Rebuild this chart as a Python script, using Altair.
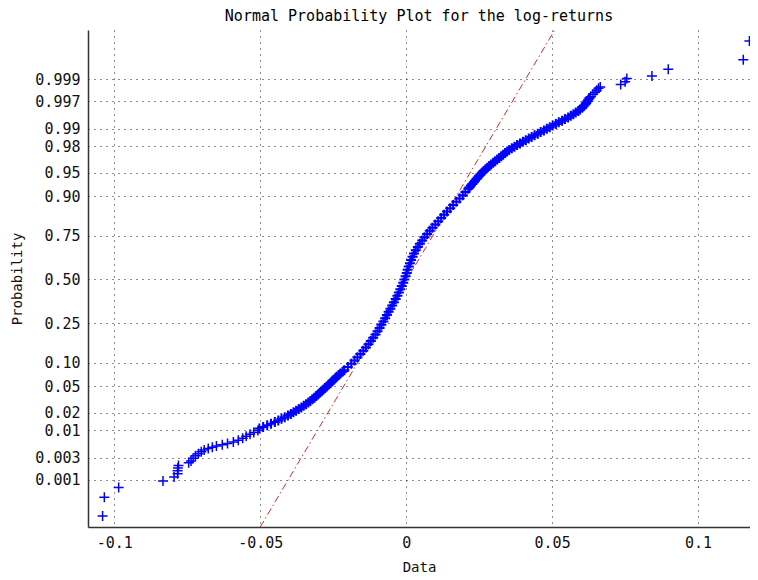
import altair as alt
import pandas as pd
from statistics import NormalDist

# ---- data ----
# normal quantile (probit position) of each plotted order statistic, and its data value
tail_low_z = [-3.65, -3.36, -3.21, -3.11, -3.05, -3.00, -2.95, -2.91, -2.87, -2.83,
              -2.80, -2.76, -2.72, -2.69, -2.66, -2.63, -2.61, -2.59, -2.57, -2.55,
              -2.53, -2.51, -2.48, -2.45, -2.42, -2.39, -2.36, -2.33]
tail_low_v = [-0.1040, -0.1034, -0.0985, -0.0833, -0.0795, -0.0783, -0.0783, -0.0782, -0.0780, -0.0745,
              -0.0737, -0.0730, -0.0722, -0.0712, -0.0702, -0.0692, -0.0678, -0.0664, -0.0650, -0.0630,
              -0.0612, -0.0592, -0.0575, -0.0560, -0.0548, -0.0535, -0.0522, -0.0508]

lower_z = [-2.300, -2.275, -2.250, -2.225, -2.200, -2.175, -2.150, -2.125, -2.100, -2.075,
           -2.050, -2.025, -2.000, -1.975, -1.950, -1.925, -1.900, -1.875, -1.850, -1.825,
           -1.800, -1.775, -1.750, -1.725, -1.700, -1.675, -1.650, -1.625, -1.600, -1.575,
           -1.550, -1.525, -1.500, -1.475, -1.450, -1.425]
lower_v = [-0.0503, -0.0490, -0.0476, -0.0463, -0.0450, -0.0438, -0.0427, -0.0416, -0.0405, -0.0395,
           -0.0386, -0.0377, -0.0368, -0.0359, -0.0351, -0.0343, -0.0335, -0.0328, -0.0321, -0.0314,
           -0.0308, -0.0302, -0.0296, -0.0290, -0.0284, -0.0278, -0.0272, -0.0266, -0.0260, -0.0254,
           -0.0249, -0.0243, -0.0238, -0.0231, -0.0225, -0.0218]

middle_z = [-1.40, -1.35, -1.30, -1.25, -1.20, -1.15, -1.10, -1.05, -1.00, -0.95,
            -0.90, -0.85, -0.80, -0.75, -0.70, -0.65, -0.60, -0.55, -0.50, -0.45,
            -0.40, -0.35, -0.30, -0.25, -0.20, -0.15, -0.10, -0.05, 0.00, 0.05,
            0.10, 0.15, 0.20, 0.25, 0.30, 0.35, 0.40, 0.45, 0.50, 0.55,
            0.60, 0.65, 0.70, 0.75, 0.80, 0.85, 0.90, 0.95, 1.00, 1.05,
            1.10, 1.15, 1.20, 1.25, 1.30, 1.35, 1.40]
middle_v = [-0.0212, -0.0200, -0.0188, -0.0177, -0.0167, -0.0157, -0.0147, -0.0138, -0.0129, -0.0121,
            -0.0113, -0.0105, -0.0098, -0.0091, -0.0085, -0.0078, -0.0072, -0.0066, -0.0060, -0.0054,
            -0.0048, -0.0042, -0.0036, -0.0030, -0.0025, -0.0020, -0.0015, -0.0010, -0.0006, -0.0002,
            0.0002, 0.0005, 0.0009, 0.0013, 0.0017, 0.0022, 0.0027, 0.0033, 0.0040, 0.0047,
            0.0055, 0.0063, 0.0072, 0.0081, 0.0090, 0.0100, 0.0110, 0.0120, 0.0130, 0.0140,
            0.0151, 0.0161, 0.0172, 0.0183, 0.0194, 0.0203, 0.0213]

upper_z = [1.425, 1.450, 1.475, 1.500, 1.525, 1.550, 1.575, 1.600, 1.625, 1.650,
           1.675, 1.700, 1.725, 1.750, 1.775, 1.800, 1.825, 1.850, 1.875, 1.900,
           1.925, 1.950, 1.975, 2.000, 2.025, 2.050, 2.075, 2.100, 2.125, 2.150,
           2.175, 2.200, 2.225, 2.250, 2.275, 2.300, 2.325, 2.350, 2.375, 2.400,
           2.425, 2.450, 2.475, 2.500, 2.525, 2.550, 2.575, 2.600, 2.625, 2.650,
           2.675, 2.700, 2.725, 2.750, 2.775, 2.800]
upper_v = [0.0217, 0.0222, 0.0227, 0.0232, 0.0236, 0.0241, 0.0245, 0.0250, 0.0255, 0.0261,
           0.0266, 0.0272, 0.0278, 0.0285, 0.0291, 0.0298, 0.0305, 0.0312, 0.0319, 0.0326,
           0.0332, 0.0339, 0.0346, 0.0353, 0.0362, 0.0371, 0.0380, 0.0390, 0.0400, 0.0410,
           0.0420, 0.0430, 0.0440, 0.0451, 0.0461, 0.0472, 0.0482, 0.0492, 0.0502, 0.0513,
           0.0523, 0.0534, 0.0544, 0.0555, 0.0564, 0.0573, 0.0581, 0.0590, 0.0596, 0.0603,
           0.0608, 0.0614, 0.0617, 0.0621, 0.0624, 0.0628]

tail_high_z = [2.82, 2.86, 2.89, 2.92, 2.95, 2.97, 3.01, 3.05, 3.10, 3.14, 3.245, 3.39, 3.68]
tail_high_v = [0.0632, 0.0640, 0.0647, 0.0653, 0.0659, 0.0665, 0.0735, 0.0750, 0.0756, 0.0842,
               0.0898, 0.1155, 0.1176]

# reference line (dash-dot) end points: data value and probit position
ref_v = [-0.0500, 0.0509]
ref_z = [-3.82, 3.85]

prob_ticks = [0.001, 0.003, 0.01, 0.02, 0.05, 0.10, 0.25, 0.50, 0.75, 0.90, 0.95, 0.98, 0.99, 0.997, 0.999]
prob_labels = ["0.001", "0.003", "0.01", "0.02", "0.05", "0.10", "0.25", "0.50", "0.75", "0.90",
               "0.95", "0.98", "0.99", "0.997", "0.999"]
x_ticks = [-0.1, -0.05, 0, 0.05, 0.1]
x_labels = ["-0.1", "-0.05", "0", "0.05", "0.1"]

# ---- build ----
nd = NormalDist()
tick_z = [nd.inv_cdf(p) for p in prob_ticks]

ylab = "''"
for zv, lab in zip(tick_z, prob_labels):
    ylab = f"abs(datum.value - ({zv:.5f})) < 0.01 ? '{lab}' : " + ylab
xlab = "''"
for xv, lab in zip(x_ticks, x_labels):
    xlab = f"abs(datum.value - ({xv})) < 0.001 ? '{lab}' : " + xlab

FONT = "DejaVu Sans Mono"

df = pd.DataFrame({
    "value": tail_low_v + lower_v + middle_v + upper_v + tail_high_v,
    "z": tail_low_z + lower_z + middle_z + upper_z + tail_high_z,
})
ref_df = pd.DataFrame({"value": ref_v, "z": ref_z})

xscale = alt.Scale(domain=[-0.109, 0.1178], nice=False, zero=False)
yscale = alt.Scale(domain=[-3.82, 3.85], nice=False, zero=False)

xaxis = alt.Axis(values=x_ticks, tickCount=len(x_ticks) + 5, labelExpr=xlab, grid=True, ticks=False,
                 labelPadding=8, titlePadding=10, labelOverlap=False)
yaxis = alt.Axis(values=tick_z, tickCount=len(tick_z) + 5, labelExpr=ylab, grid=True, ticks=False,
                 labelPadding=8, titlePadding=10, labelOverlap=False)

line = alt.Chart(ref_df).mark_line(
    color="#d42a2a", strokeWidth=1, strokeDash=[7, 3, 1.5, 3], clip=True
).encode(
    x=alt.X("value:Q", scale=xscale, axis=xaxis, title="Data"),
    y=alt.Y("z:Q", scale=yscale, axis=yaxis, title="Probability"),
)

points = alt.Chart(df).mark_point(
    shape="M-1,0L1,0M0,-1L0,1", filled=False, size=100,
    color="#0000ff", opacity=1
).encode(
    x=alt.X("value:Q", scale=xscale),
    y=alt.Y("z:Q", scale=yscale),
    strokeWidth=alt.condition("datum.z < -2.31 || datum.z > 2.81", alt.value(1.5), alt.value(2)),
)

chart = alt.layer(line, points).properties(
    width=662, height=497,
    background="white",
    title=alt.TitleParams("Normal Probability Plot for the log-returns", anchor="middle",
                          font=FONT, fontSize=15, fontWeight="normal", color="#000", offset=6),
    autosize=alt.AutoSizeParams(type="none"),
    padding={"left": 80, "top": 22, "right": 0, "bottom": 50},
).configure_view(stroke=None).configure_axis(
    labelFont=FONT, titleFont=FONT, labelColor="#111", titleColor="#111",
    labelFontSize=15, titleFontSize=14,
    titleFontWeight="normal", domainColor="#333", domainWidth=1.5,
    gridColor="#000", gridDash=[1, 5], gridWidth=1, gridOpacity=0.9,
)

chart.save("out.html", embed_options={"renderer": "svg", "actions": False})
